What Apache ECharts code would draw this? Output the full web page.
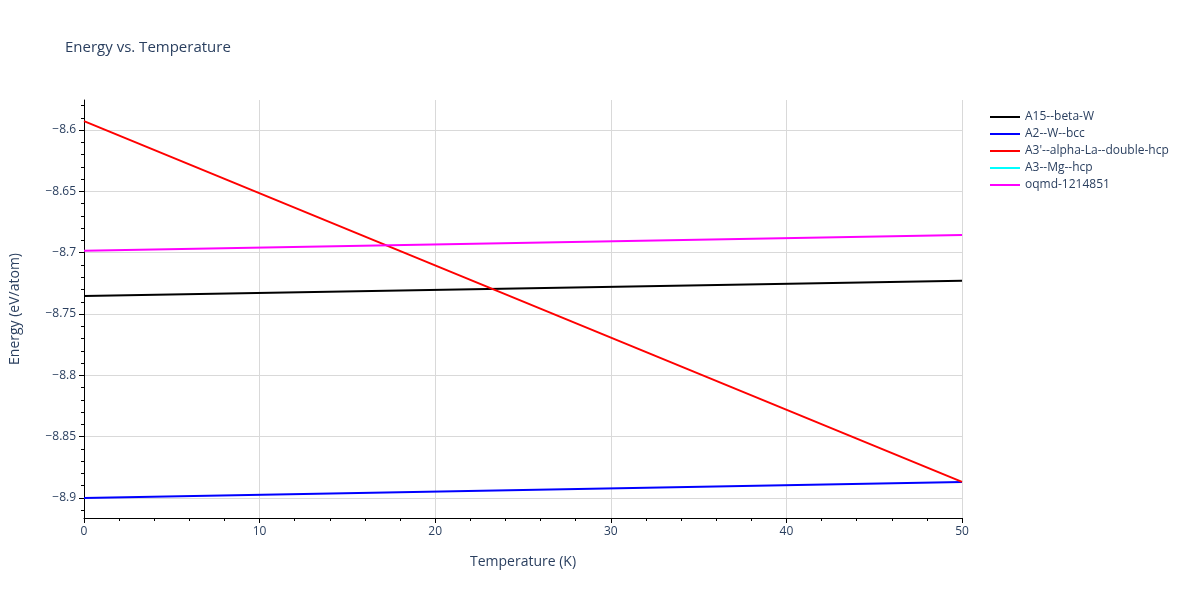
<!DOCTYPE html>
<html><head><meta charset="utf-8">
<script src="https://cdn.jsdelivr.net/npm/echarts@6/dist/echarts.min.js"></script>
<style>html,body{margin:0;padding:0;background:#fff}#c{width:1200px;height:600px}</style>
</head><body><div id="c"></div>
<script>
const seriesNames = ['A15--beta-W','A2--W--bcc',"A3'--alpha-La--double-hcp",'A3--Mg--hcp','oqmd-1214851'];
const colors = ['#000000','#0000ff','#ff0000','#00ffff','#ff00ff'];
const temps = [0, 50];
const a15 = [-8.7353, -8.7228];
const a2 = [-8.9000, -8.8870];
const a3p = [-8.5927, -8.8868];
const a3mg = [];
const oqmd = [-8.6985, -8.6856];
const yTicks = [-8.9,-8.85,-8.8,-8.75,-8.7,-8.65,-8.6];
const xTicks = [0,10,20,30,40,50];
const allData = [a15,a2,a3p,a3mg,oqmd];
const font = '"Open Sans", "Noto Sans", sans-serif';
const ch = echarts.init(document.getElementById('c'));
ch.setOption({
  animation:false,
  title:{text:'Energy vs. Temperature',left:60,top:35,textStyle:{fontFamily:font,fontSize:15,fontWeight:'normal',color:'#2a3f5f'}},
  legend:{orient:'vertical',left:985,top:106,itemGap:5,itemWidth:30,itemHeight:2,icon:'rect',
    textStyle:{fontFamily:font,fontSize:12,color:'#2a3f5f'},data:seriesNames},
  grid:{left:81,right:238,top:100,bottom:82},
  xAxis:{type:'value',min:0,max:50,interval:10,name:'Temperature (K)',nameLocation:'middle',nameGap:37,
    nameTextStyle:{fontFamily:font,fontSize:14,color:'#2a3f5f'},
    axisLine:{onZero:false,lineStyle:{color:'#000'}},
    axisTick:{show:true,length:5,lineStyle:{color:'#000'}},
    minorTick:{show:true,splitNumber:5,length:3,lineStyle:{color:'#000'}},
    axisLabel:{fontFamily:font,fontSize:12,color:'#2a3f5f'},
    splitLine:{lineStyle:{color:'#d9d9d9'}}},
  yAxis:{type:'value',min:-8.9163,max:-8.5755,name:'Energy (eV/atom)',nameLocation:'middle',nameGap:62,
    nameTextStyle:{fontFamily:font,fontSize:14,color:'#2a3f5f'},
    axisLine:{show:true,onZero:false,lineStyle:{color:'#000'}},
    axisTick:{show:true,length:5,customValues:yTicks,lineStyle:{color:'#000'}},
    minorTick:{show:true,splitNumber:5,length:3,lineStyle:{color:'#000'}},
    axisLabel:{customValues:yTicks,fontFamily:font,fontSize:12,color:'#2a3f5f',
      formatter:v=>String(+v.toFixed(2)).replace('-','\u2212')},
    splitLine:{lineStyle:{color:'#d9d9d9'}}},
  series: seriesNames.map((n,i)=>({name:n,type:'line',symbol:'none',color:colors[i],
    lineStyle:{width:2,color:colors[i]},
    data: allData[i].map((v,j)=>[temps[j],v])}))
});
</script></body></html>
